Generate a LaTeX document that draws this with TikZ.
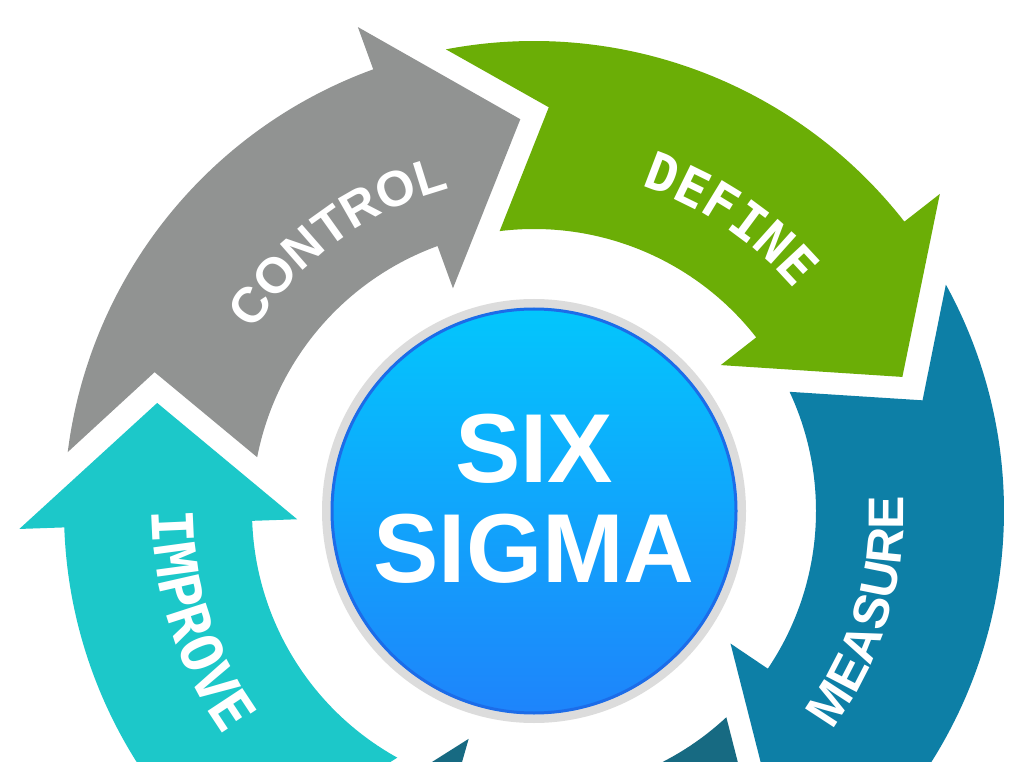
\documentclass[tikz,border=0pt]{standalone}
\usepackage{fontspec}
\setsansfont{Liberation Sans}
\newfontfamily\monofont{DejaVu Sans Mono}
\usepackage{tikz}
\usetikzlibrary{decorations.text}

\definecolor{controlgray}{HTML}{919392}
\definecolor{definegreen}{HTML}{6BAE06}
\definecolor{measureblue}{HTML}{0D7FA6}
\definecolor{analyzeblue}{HTML}{176A82}
\definecolor{improvecyan}{HTML}{1CC8C9}
\definecolor{sigmatop}{HTML}{03C6FC}
\definecolor{sigmabottom}{HTML}{1E84FB}
\definecolor{sigmaedge}{HTML}{1C6CE8}
\definecolor{ringgray}{HTML}{DCDCDC}

% one arrow of the ring: fill, angle of the head base, centre
\def\cyclearrow[#1](#2)(#3){\fill[#1, shift={(#3)}, rotate=#2] (0:515) -- (-18:392) -- (0:237) -- (0:282) arc[start angle=0, end angle=59, radius=282] -- (49.9:404) -- (62.8:470) arc[start angle=62.8, end angle=0, radius=470] -- cycle;}

\tikzset{
	ringtext/.style={decorate, decoration={text along path, text align=center, text color=white, text={#1}}}
}

\begin{document}
\begin{tikzpicture}[x=1pt, y=1pt]
		%%%%% START %%%%%
		
		\fill[white] (0, 0) rectangle (1024, 761);
		\clip (0, 0) rectangle (1024, 761);
		\coordinate (C) at (534, 250);
		
		\cyclearrow[improvecyan](182)(C)
		\cyclearrow[controlgray](110)(C)
		\cyclearrow[definegreen](38)(C)
		\cyclearrow[measureblue](326)(C)
		\cyclearrow[analyzeblue](254)(C)
		
		\path[shift={(C)}, ringtext={|\sffamily\bfseries\fontsize{50}{50}\selectfont|CONTROL}] (166:333) arc[start angle=166, end angle=86, radius=333];
		\path[shift={(C)}, ringtext={|\monofont\bfseries\fontsize{52}{52}\selectfont|DEFINE}] (96:342) arc[start angle=96, end angle=16, radius=342];
		\path[shift={(C)}, ringtext={|\sffamily\bfseries\fontsize{50}{50}\selectfont|MEASURE}] (303:370) arc[start angle=303, end angle=383, radius=370];
		\path[shift={(C)}, ringtext={|\monofont\bfseries\fontsize{57}{57}\selectfont|IMPROVE}] (158:382) arc[start angle=158, end angle=238, radius=382];
		
		\fill[ringgray] (C) circle (212);
		\shade[top color=sigmatop, bottom color=sigmabottom] (C) circle (203);
		\draw[line width=3, color=sigmaedge] (C) circle (202);
		\node[text=white, align=center, font=\sffamily\bfseries\fontsize{98}{100}\selectfont] (sixsigma) at (534, 262) {SIX\\SIGMA};
		
		%%%%% END %%%%%
	\end{tikzpicture}
\end{document}
